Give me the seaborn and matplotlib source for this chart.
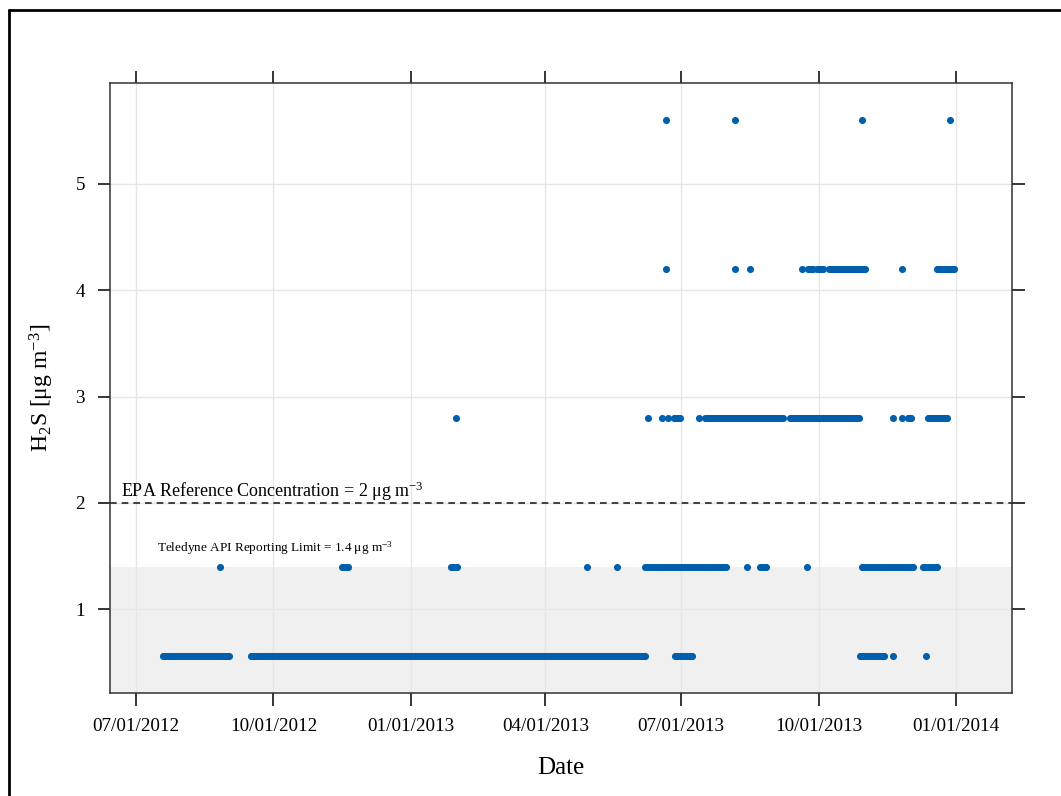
import matplotlib
matplotlib.use("Agg")
import matplotlib.pyplot as plt
import matplotlib.dates as mdates
from matplotlib.lines import Line2D
import pandas as pd
import seaborn as sns

# Observed H2S concentration runs: each run holds one reported level
# from its start date to its end date (inclusive, daily records).
run_start = [
    # 0.56
    "2012-07-19", "2012-09-16", "2013-06-27", "2013-10-29", "2013-11-20", "2013-12-12",
    # 1.4
    "2012-08-26", "2012-11-16", "2013-01-28", "2013-04-29", "2013-05-19", "2013-06-07",
    "2013-08-14", "2013-08-23", "2013-09-23", "2013-10-30", "2013-12-10",
    # 2.8
    "2013-01-31", "2013-06-09", "2013-06-18", "2013-06-22", "2013-06-26", "2013-07-13",
    "2013-07-17", "2013-09-12", "2013-11-20", "2013-11-26", "2013-11-30", "2013-12-13",
    # 4.2
    "2013-06-21", "2013-08-06", "2013-08-16", "2013-09-20", "2013-09-24", "2013-09-30",
    "2013-10-08", "2013-11-26", "2013-12-19",
    # 5.6
    "2013-06-21", "2013-08-06", "2013-10-30", "2013-12-28",
]
run_end = [
    "2012-09-01", "2013-06-07", "2013-07-08", "2013-11-14", "2013-11-20", "2013-12-12",
    "2012-08-26", "2012-11-20", "2013-02-01", "2013-04-29", "2013-05-19", "2013-07-31",
    "2013-08-14", "2013-08-27", "2013-09-23", "2013-12-03", "2013-12-19",
    "2013-01-31", "2013-06-09", "2013-06-18", "2013-06-22", "2013-06-30", "2013-07-13",
    "2013-09-07", "2013-10-28", "2013-11-20", "2013-11-26", "2013-12-02", "2013-12-26",
    "2013-06-21", "2013-08-06", "2013-08-16", "2013-09-20", "2013-09-27", "2013-10-04",
    "2013-11-01", "2013-11-26", "2013-12-31",
    "2013-06-21", "2013-08-06", "2013-10-30", "2013-12-28",
]
run_value = (
    [0.56] * 6
    + [1.4] * 11
    + [2.8] * 12
    + [4.2] * 9
    + [5.6] * 4
)

tick_dates = ["2012-07-01", "2012-10-01", "2013-01-01", "2013-04-01",
              "2013-07-01", "2013-10-01", "2014-01-01"]
y_ticks = [1, 2, 3, 4, 5]
epa_reference = 2.0
reporting_limit = 1.4

rows = []
for s, e, v in zip(run_start, run_end, run_value):
    for d in pd.date_range(s, e, freq="D"):
        rows.append((d, v))
df = pd.DataFrame(rows, columns=["date", "h2s"])

sns.set_style("white")
plt.rcParams["font.family"] = ["Liberation Serif", "DejaVu Serif"]
plt.rcParams["mathtext.fontset"] = "custom"
plt.rcParams["mathtext.rm"] = "Liberation Serif"
plt.rcParams["mathtext.it"] = "Liberation Serif:italic"
plt.rcParams["text.color"] = "black"
plt.rcParams["axes.labelcolor"] = "black"
plt.rcParams["xtick.color"] = "black"
plt.rcParams["ytick.color"] = "black"

fig = plt.figure(figsize=(10.61, 7.96), dpi=100)
ax = fig.add_axes([110 / 1061, 1 - 693 / 796, (1012 - 110) / 1061, (693 - 83) / 796])

ax.axhspan(0, reporting_limit, color="#F0F0F0", zorder=0, lw=0)
for d in tick_dates:
    ax.axvline(pd.Timestamp(d), color="#E6E6E6", lw=1, zorder=0.5)
for y in y_ticks:
    ax.axhline(y, color="#E6E6E6", lw=1, zorder=0.5)

sns.scatterplot(data=df, x="date", y="h2s", ax=ax, color="#005FAD",
                s=26, linewidth=0, zorder=3, legend=False)

ax.axhline(epa_reference, color="#222222", lw=1.2, ls=(0, (4, 3)), zorder=2)

ax.set_xlim(pd.Timestamp("2012-06-13 14:00"), pd.Timestamp("2014-02-07 12:00"))
ax.set_ylim(0.21, 5.95)

ax.set_xticks([pd.Timestamp(d) for d in tick_dates])
ax.xaxis.set_major_formatter(mdates.DateFormatter("%m/%d/%Y"))
ax.set_yticks(y_ticks)

ax.tick_params(axis="both", which="major", direction="out", length=9, width=1.1,
               colors="black", labelsize=13.8, top=True, right=True,
               bottom=True, left=True, labeltop=False, labelright=False,
               labelbottom=True, labelleft=True)
ax.tick_params(axis="x", pad=9)
ax.tick_params(axis="y", pad=9)

for sp in ax.spines.values():
    sp.set_color("#333333")
    sp.set_linewidth(1.1)

ax.set_xlabel("Date", fontsize=18, labelpad=16)
ax.set_ylabel(r"H$_2$S [μg m$^{-3}$]", fontsize=17, labelpad=14)

ax.text(pd.Timestamp("2012-06-21"), epa_reference + 0.056,
        r"EPA Reference Concentration = 2 μg m$^{-3}$",
        fontsize=13, ha="left", va="baseline", zorder=4)
ax.text(pd.Timestamp("2012-07-15"), reporting_limit + 0.14,
        r"Teledyne API Reporting Limit = 1.4 μg m$^{-3}$",
        fontsize=9.5, ha="left", va="baseline", zorder=4)

# outer frame lines along the left and top edges of the figure
fig.add_artist(Line2D([9 / 1061, 9 / 1061], [0, 1 - 10 / 796],
                      transform=fig.transFigure, color="black", lw=2))
fig.add_artist(Line2D([9 / 1061, 1], [1 - 10 / 796, 1 - 10 / 796],
                      transform=fig.transFigure, color="black", lw=2))

fig.savefig("out.png", dpi=100)
